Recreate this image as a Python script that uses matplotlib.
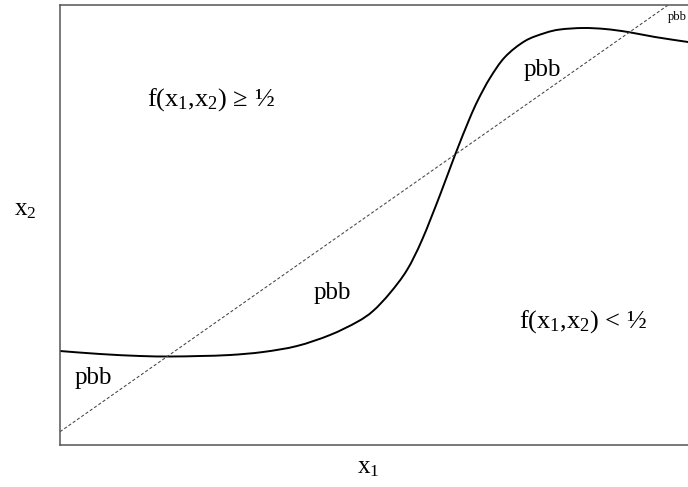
import matplotlib
matplotlib.use("Agg")
import matplotlib.pyplot as plt
import numpy as np
from matplotlib.path import Path
from matplotlib.patches import PathPatch

plt.rcParams['font.family'] = ['Liberation Serif', 'DejaVu Serif']
plt.rcParams['mathtext.fontset'] = 'custom'
plt.rcParams['mathtext.rm'] = 'Liberation Serif'
plt.rcParams['mathtext.it'] = 'Liberation Serif'

# boundary curve f(x1,x2) = 1/2
curve_x = [0, 40, 80, 110, 140, 170, 203, 237, 270, 297, 313, 330, 347, 362, 380,
           395, 409, 418, 430, 445, 465, 485, 500, 523, 545, 568, 595, 628, 640]
curve_y = [94, 91, 89, 88.5, 89, 90, 93, 99, 110, 123, 134, 152, 175, 205, 250,
           290, 325, 345, 367, 388, 404, 412, 415.5, 417, 416, 413, 408, 403, 401]

# linear boundary (dashed)
line_x = [0, 640]
line_y = [13.3, 462.3]

labels = ["pbb", "pbb", "pbb"]
label_x = [33, 272, 482]
label_y = [67, 152, 375]

fig = plt.figure(figsize=(6.88, 4.87), dpi=100)
ax = fig.add_axes([60/688, 42/487, 640/688, 440.5/487])
ax.set_xlim(0, 640)
ax.set_ylim(0, 440.5)
ax.set_xticks([])
ax.set_yticks([])
for s in ax.spines.values():
    s.set_color('#555555')
    s.set_linewidth(1.1)

# smooth path through the read points (Catmull-Rom as cubic Bezier segments)
P = np.column_stack([curve_x, curve_y]).astype(float)
verts = [P[0]]
codes = [Path.MOVETO]
n = len(P)
for i in range(n - 1):
    p0 = P[i - 1] if i > 0 else P[i]
    p1 = P[i]
    p2 = P[i + 1]
    p3 = P[i + 2] if i + 2 < n else P[i + 1]
    c1 = p1 + (p2 - p0) / 6.0
    c2 = p2 - (p3 - p1) / 6.0
    verts += [c1, c2, p2]
    codes += [Path.CURVE4] * 3
ax.add_patch(PathPatch(Path(verts, codes), facecolor='none', edgecolor='black',
                       lw=1.4, capstyle='butt'))

ax.plot(line_x, line_y, color='#444444', lw=0.75, ls=(0, (3, 2)))

for t, x, y in zip(labels, label_x, label_y):
    ax.text(x, y, t, fontsize=18, ha='center', va='center')
ax.text(608, 428, "pbb", fontsize=9, ha='left', va='center')

ax.text(87, 345, r'$\mathregular{f(x_1{,}x_2)}$ ≥ ½', fontsize=19, ha='left', va='center')
ax.text(459, 123, r'$\mathregular{f(x_1{,}x_2)}$ < ½', fontsize=19, ha='left', va='center')

fig.text(368/688, 1 - 468/487, r'$\mathregular{x_1}$', fontsize=18, ha='center', va='center')
fig.text(25/688, 1 - 210/487, r'$\mathregular{x_2}$', fontsize=18, ha='center', va='center')

fig.savefig("out.png", dpi=100)
